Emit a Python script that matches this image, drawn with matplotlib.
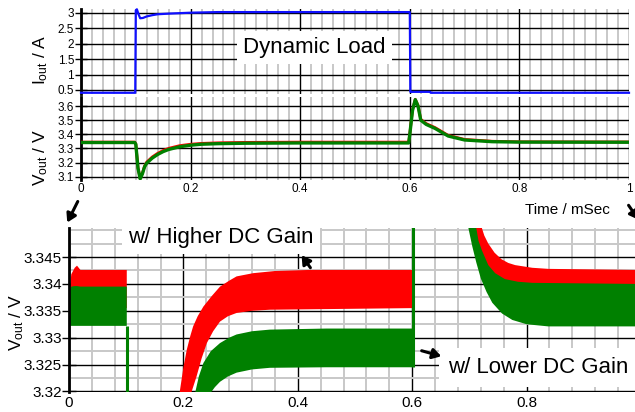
"""Dynamic load step: output current and output voltage, full view plus zoom."""

import matplotlib

matplotlib.use("Agg")
import matplotlib.pyplot as plt
from matplotlib.ticker import MultipleLocator

plt.rcParams["font.family"] = ["Liberation Sans", "DejaVu Sans"]
plt.rcParams["mathtext.default"] = "regular"

W, H = 635, 412

COLOR_LOW = "#ff0000"    # w/ Higher DC Gain
COLOR_HIGH = "#008000"   # w/ Lower DC Gain
COLOR_LOAD = "#1010ff"
COLOR_MINOR = "#c8c8c8"

# --- load current (A) against time (ms)
iout_t = [0.0, 0.099, 0.1, 0.102, 0.105, 0.108, 0.113, 0.12, 0.13, 0.14, 0.16,
          0.2, 0.25, 0.6, 0.601, 0.637, 0.638, 1.0]
iout_a = [0.41, 0.41, 3.08, 3.11, 2.95, 2.82, 2.83, 2.88, 2.92, 2.95, 2.97,
          3.0, 3.02, 3.02, 0.44, 0.44, 0.41, 0.41]

# --- output voltage (V), full view
vout_t = [0.0, 0.098, 0.1, 0.104, 0.108, 0.112, 0.116, 0.12, 0.13, 0.14, 0.15,
          0.16, 0.18, 0.2, 0.22, 0.25, 0.3, 0.4, 0.598, 0.6, 0.605, 0.61, 0.615,
          0.62, 0.63, 0.646, 0.67, 0.7, 0.75, 0.8, 1.0]
vout_green = [3.342, 3.342, 3.33, 3.16, 3.085, 3.12, 3.17, 3.197, 3.232, 3.258,
              3.278, 3.293, 3.312, 3.323, 3.330, 3.334, 3.337, 3.339, 3.339,
              3.40, 3.57, 3.645, 3.60, 3.50, 3.47, 3.442, 3.388, 3.36, 3.348,
              3.345, 3.344]
vout_red = [3.345, 3.345, 3.333, 3.163, 3.088, 3.125, 3.176, 3.204, 3.240, 3.266,
            3.286, 3.301, 3.320, 3.330, 3.336, 3.340, 3.343, 3.345, 3.345,
            3.405, 3.575, 3.648, 3.605, 3.506, 3.476, 3.448, 3.393, 3.364, 3.351,
            3.347, 3.346]

# --- zoomed view: ripple envelopes, three pieces
# before the load step
z1_t = [0.0, 0.004, 0.010, 0.014, 0.02, 0.101]
z1_red_hi = [3.3375, 3.3418, 3.3430, 3.3434, 3.3426, 3.3426]
z1_red_lo = [3.3355, 3.3355, 3.3355, 3.3355, 3.3355, 3.3355]
z1_green_hi = [3.3385, 3.3395, 3.3396, 3.3396, 3.3395, 3.3395]
z1_green_lo = [3.3322, 3.3322, 3.3322, 3.3322, 3.3322, 3.3322]

# recovery after the load step
z2_red_hi_t = [0.193, 0.200, 0.206, 0.212, 0.217, 0.225, 0.235, 0.25, 0.264,
               0.28, 0.293, 0.322, 0.36, 0.42, 0.6]
z2_red_hi = [3.3195, 3.3245, 3.3278, 3.3303, 3.3321, 3.3340, 3.3358, 3.3378,
             3.3395, 3.3406, 3.3414, 3.3420, 3.3424, 3.3426, 3.3426]
z2_red_lo_t = [0.213, 0.223, 0.232, 0.241, 0.252, 0.264, 0.278, 0.293, 0.32,
               0.351, 0.6]
z2_red_lo = [3.3195, 3.3228, 3.3262, 3.3290, 3.3312, 3.3330, 3.3340, 3.3346,
             3.3350, 3.3352, 3.3355]
z2_green_hi_t = [0.220, 0.227, 0.235, 0.248, 0.264, 0.28, 0.293, 0.32, 0.351,
                 0.45, 0.6]
z2_green_hi = [3.3195, 3.3228, 3.3253, 3.3275, 3.3290, 3.3300, 3.3306, 3.3312,
               3.3315, 3.3317, 3.3317]
z2_green_lo_t = [0.246, 0.255, 0.264, 0.278, 0.293, 0.32, 0.351, 0.45, 0.6]
z2_green_lo = [3.3195, 3.3208, 3.3218, 3.3228, 3.3235, 3.3241, 3.3244, 3.3245,
               3.3245]

# settling after the load release
z3_red_hi_t = [0.720, 0.726, 0.733, 0.744, 0.756, 0.768, 0.780, 0.81, 0.838,
               0.99]
z3_red_hi = [3.3510, 3.3490, 3.3475, 3.3458, 3.3446, 3.3439, 3.3435, 3.3430,
             3.3428, 3.3426]
z3_red_lo_t = [0.701, 0.72, 0.74, 0.76, 0.80, 0.99]
z3_red_lo = [3.3510, 3.3430, 3.3385, 3.3370, 3.3358, 3.3355]
z3_green_hi_t = [0.711, 0.716, 0.722, 0.733, 0.745, 0.762, 0.785, 0.81, 0.99]
z3_green_hi = [3.3510, 3.3480, 3.3462, 3.3435, 3.3420, 3.3409, 3.3404, 3.3402,
               3.3400]
z3_green_lo_t = [0.697, 0.705, 0.712, 0.72, 0.73, 0.74, 0.757, 0.775, 0.8,
                 0.838, 0.99]
z3_green_lo = [3.3510, 3.3470, 3.3440, 3.3410, 3.3385, 3.3365, 3.3345, 3.3333,
               3.3325, 3.3321, 3.3321]

# green step edges in the zoom (time, low end, high end)
z_edge_t = [0.101, 0.601]
z_edge_lo = [3.3195, 3.3245]
z_edge_hi = [3.3322, 3.3510]

# ticks
full_xticks = [0, 0.2, 0.4, 0.6, 0.8, 1.0]
full_xlabels = ["0", "0.2", "0.4", "0.6", "0.8", "1"]
iout_ticks = [0.5, 1, 1.5, 2, 2.5, 3]
iout_labels = ["0.5", "1", "1.5", "2", "2.5", "3"]
vout_ticks = [3.1, 3.2, 3.3, 3.4, 3.5, 3.6]
vout_labels = ["3.1", "3.2", "3.3", "3.4", "3.5", "3.6"]
zoom_xticks = [0, 0.2, 0.4, 0.6, 0.8]
zoom_xlabels = ["0", "0.2", "0.4", "0.6", "0.8"]
zoom_yticks = [3.32, 3.325, 3.33, 3.335, 3.34, 3.345]
zoom_ylabels = ["3.32", "3.325", "3.33", "3.335", "3.34", "3.345"]


def fx(px):
    return px / W


def fy(py):
    return 1 - py / H


def rect(left, top, right, bottom):
    return [fx(left), fy(bottom), (right - left) / W, (bottom - top) / H]


def style(ax, xminor, yminor=None, size=8.5, tick_len=8):
    for side in ("top", "right", "bottom"):
        ax.spines[side].set_visible(False)
    ax.spines["left"].set_linewidth(2)
    ax.xaxis.set_minor_locator(MultipleLocator(xminor))
    if yminor:
        ax.yaxis.set_minor_locator(MultipleLocator(yminor))
    ax.grid(which="major", color="black", lw=1.0, zorder=1)
    ax.grid(which="minor", color=COLOR_MINOR, lw=1.4, zorder=0)
    ax.set_axisbelow(True)
    ax.tick_params(axis="y", which="major", direction="inout", length=tick_len,
                   width=1, pad=1, labelsize=size)
    ax.tick_params(axis="x", which="major", length=0, labelsize=size)
    ax.tick_params(which="minor", length=0)


def band(ax, t_hi, v_hi, t_lo, v_lo, color):
    xs = list(t_hi) + list(t_lo)[::-1]
    ys = list(v_hi) + list(v_lo)[::-1]
    ax.fill(xs, ys, color=color, lw=0, zorder=3)


def arrow(fig, tail, head):
    fig.add_artist(matplotlib.patches.FancyArrowPatch(
        (fx(tail[0]), fy(tail[1])), (fx(head[0]), fy(head[1])),
        transform=fig.transFigure, arrowstyle="-|>,head_length=5,head_width=3",
        color="black", lw=2.2, zorder=10))


fig = plt.figure(figsize=(W / 100, H / 100), dpi=100)

# current panel
ax_i = fig.add_axes(rect(81, 9.3, 629, 93.7))
style(ax_i, 0.02)
ax_i.plot(iout_t, iout_a, color=COLOR_LOAD, lw=1.6, zorder=3, clip_on=False)
ax_i.set_xlim(0, 1)
ax_i.set_ylim(0.38, 3.11)
ax_i.set_xticks(full_xticks)
ax_i.set_xticklabels([])
ax_i.set_yticks(iout_ticks, iout_labels)

# voltage panel, full view
ax_v = fig.add_axes(rect(81, 97, 629, 180))
style(ax_v, 0.02)
ax_v.plot(vout_t, vout_red, color=COLOR_LOW, lw=2.0, zorder=3)
ax_v.plot(vout_t, vout_green, color=COLOR_HIGH, lw=2.4, zorder=4)
ax_v.set_xlim(0, 1)
ax_v.set_ylim(3.077, 3.664)
ax_v.set_xticks(full_xticks, full_xlabels)
ax_v.set_yticks(vout_ticks, vout_labels)
ax_v.tick_params(axis="x", pad=2)

# voltage panel, zoom
ax_z = fig.add_axes(rect(69, 228, 635, 392))
style(ax_z, 0.04, 0.0025, size=11, tick_len=10)
ax_z.spines["left"].set_zorder(6)
band(ax_z, z1_t, z1_red_hi, z1_t, z1_red_lo, COLOR_LOW)
band(ax_z, z1_t, z1_green_hi, z1_t, z1_green_lo, COLOR_HIGH)
band(ax_z, z2_red_hi_t, z2_red_hi, z2_red_lo_t, z2_red_lo, COLOR_LOW)
band(ax_z, z2_green_hi_t, z2_green_hi, z2_green_lo_t, z2_green_lo, COLOR_HIGH)
band(ax_z, z3_red_hi_t, z3_red_hi, z3_red_lo_t, z3_red_lo, COLOR_LOW)
band(ax_z, z3_green_hi_t, z3_green_hi, z3_green_lo_t, z3_green_lo, COLOR_HIGH)
ax_z.vlines(z_edge_t, z_edge_lo, z_edge_hi, color=COLOR_HIGH, lw=2.2, zorder=4)
ax_z.set_xlim(0, 0.9895)
ax_z.set_ylim(3.3199, 3.3504)
ax_z.set_xticks(zoom_xticks, zoom_xlabels)
ax_z.set_yticks(zoom_yticks, zoom_ylabels)
ax_z.tick_params(axis="x", pad=3)
ax_z.tick_params(axis="y", pad=0)

# labels and callouts
box = dict(boxstyle="square,pad=0.28", facecolor="white", edgecolor="none")
fig.text(fx(41), fy(60), "I$_{out}$ / A", rotation=90, ha="center", va="center",
         fontsize=12.5)
fig.text(fx(41), fy(157), "V$_{out}$ / V", rotation=90, ha="center", va="center",
         fontsize=12.5)
fig.text(fx(17), fy(322), "V$_{out}$ / V", rotation=90, ha="center", va="center",
         fontsize=12.5)
fig.text(fx(243), fy(53), "Dynamic Load", ha="left", va="baseline", fontsize=16,
         bbox=box, zorder=8)
fig.text(fx(128), fy(243), "w/ Higher DC Gain", ha="left", va="baseline",
         fontsize=16, bbox=box, zorder=8)
fig.text(fx(448), fy(373), "w/ Lower DC Gain", ha="left", va="baseline",
         fontsize=16, bbox=dict(boxstyle="square,pad=0.4", facecolor="white",
                                edgecolor="none"), zorder=8)
fig.text(fx(525), fy(214), "Time / mSec", ha="left", va="baseline", fontsize=11)

arrow(fig, (79, 199), (66, 225))
arrow(fig, (627, 203), (640, 222))
arrow(fig, (312, 270), (300, 253))
arrow(fig, (419, 350), (444, 357))

fig.savefig("out.png", dpi=100, facecolor="white")
